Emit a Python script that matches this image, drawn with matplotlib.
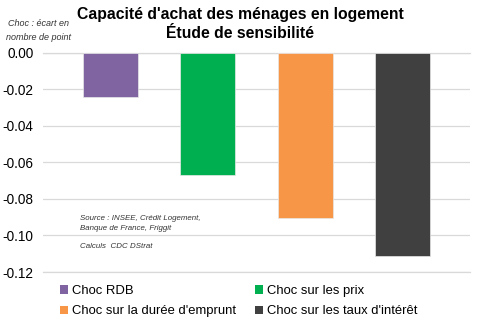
import matplotlib
matplotlib.use("Agg")
import matplotlib.pyplot as plt
from matplotlib.patches import Patch

plt.rcParams['font.family'] = ['Liberation Sans', 'DejaVu Sans']

series = ["Choc RDB", "Choc sur les prix", "Choc sur la durée d'emprunt", "Choc sur les taux d'intérêt"]
values = [-0.0243, -0.0668, -0.0903, -0.1110]
colors = ["#8064A2", "#00B050", "#F79646", "#404040"]
yticks = [0.00, -0.02, -0.04, -0.06, -0.08, -0.10, -0.12]

W, H = 478, 325
fig = plt.figure(figsize=(W/100, H/100), dpi=100)
ax = fig.add_axes([43/W, 1-272/H, (470-43)/W, (272-52.5)/H])

xs = list(range(len(values)))
ax.bar(xs, values, width=0.567, color=colors, edgecolor="#e8e8e8", linewidth=0.5, zorder=3)
ax.set_xlim(-0.696, 3.696)
ax.set_ylim(-0.12, 0.0)
ax.set_yticks(yticks)
ax.set_yticklabels([f"{v:.2f}" for v in yticks], fontsize=9.8)
ax.tick_params(axis='y', length=0, pad=7)
ax.set_xticks([])
for s in ax.spines.values():
    s.set_visible(False)
ax.yaxis.grid(True, color="#d9d9d9", linewidth=0.9, zorder=0)
ax.set_axisbelow(True)
for y in (0.0, -0.12):
    ax.axhline(y, color="#d9d9d9", linewidth=0.9, zorder=0, clip_on=False)

fig.text(240/W, 1-15/H, "Capacité d'achat des ménages en logement", ha="center", va="center",
         fontsize=11.3, fontweight="bold")
fig.text(240/W, 1-33/H, "Étude de sensibilité", ha="center", va="center",
         fontsize=11.3, fontweight="bold")
fig.text(38/W, 1-24/H, "Choc : écart en", ha="center", va="center", fontsize=6.5, style="italic", color="#333333")
fig.text(38/W, 1-37/H, "nombre de point", ha="center", va="center", fontsize=6.5, style="italic", color="#333333")

fig.text(80/W, 1-218/H, "Source : INSEE, Crédit Logement,", ha="left", va="center", fontsize=5.7, style="italic", color="#333333")
fig.text(80/W, 1-228/H, "Banque de France, Friggit", ha="left", va="center", fontsize=5.7, style="italic", color="#333333")
fig.text(80/W, 1-246/H, "Calculs  CDC DStrat", ha="left", va="center", fontsize=5.7, style="italic", color="#333333")

handles = [Patch(facecolor=c, edgecolor="none") for c in colors]
order = [0, 2, 1, 3]
leg = fig.legend([handles[i] for i in order], [series[i] for i in order], ncol=2,
                 loc="upper left", bbox_to_anchor=(60/W, 1-285/H), frameon=False,
                 fontsize=9.4, handlelength=0.6, handleheight=0.6, handletextpad=0.35,
                 columnspacing=1.4, labelspacing=0.65, borderaxespad=0, borderpad=0)

fig.savefig("out.png", dpi=100, facecolor="white")
